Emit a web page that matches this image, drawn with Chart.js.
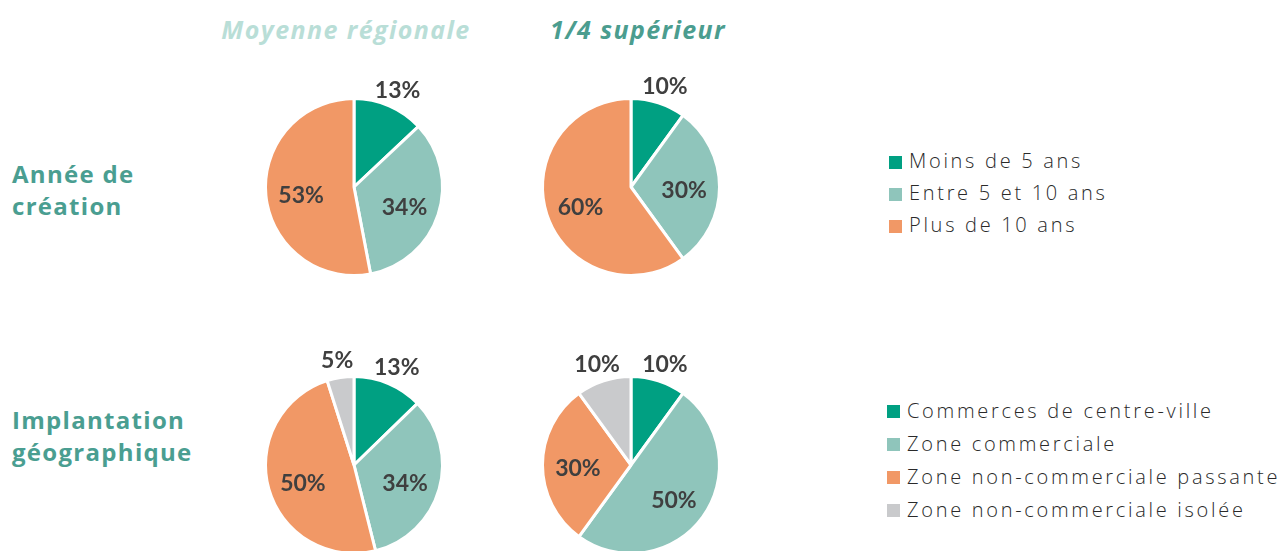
<!DOCTYPE html>
<html lang="fr">
<head>
<meta charset="utf-8">
<script src="https://cdn.jsdelivr.net/npm/chart.js@4/dist/chart.umd.min.js"></script>
<style>
    html, body { margin: 0; padding: 0; background: #fff; width: 1286px; height: 551px; overflow: hidden; }
    body { position: relative; font-family: "Open Sans", sans-serif; }
    .pie { position: absolute; width: 260px; height: 260px; }
    .head { position: absolute; top: 12px; width: 340px; margin-left: -170px; text-align: center;
            font: italic 700 25px "Open Sans", sans-serif; letter-spacing: 1.4px; }
    .row { position: absolute; left: 12px; font: 700 24px "Open Sans", sans-serif; line-height: 32px; color: #4a9e91; letter-spacing: 1.3px; }
    .legend { position: absolute; font: 300 20px "Open Sans", sans-serif; color: #2a2a2a; letter-spacing: 2.7px; }
    .legend div { position: relative; padding-left: 20px; white-space: nowrap; }
    .legend span { position: absolute; left: 0; width: 13px; height: 13px; }
</style>
</head>
<body>
<div class="head" style="left:346px; color:#b9ded7;">Moyenne régionale</div>
<div class="head" style="left:638px; color:#4b9d8f;">1/4 supérieur</div>

<div class="row" style="top:158px;">Année de<br>création</div>
<div class="row" style="top:404px;">Implantation<br>géographique</div>

<canvas id="pieCreationRegional" class="pie" style="left:224px; top:57px;"></canvas>
<canvas id="pieCreationTop" class="pie" style="left:501px; top:57px;"></canvas>
<canvas id="pieLocationRegional" class="pie" style="left:224px; top:335px;"></canvas>
<canvas id="pieLocationTop" class="pie" style="left:501px; top:335px;"></canvas>

<div id="legendCreation" class="legend" style="left:889px; top:145px; line-height:32px;"></div>
<div id="legendLocation" class="legend" style="left:887px; top:394px; line-height:33px;"></div>

<script>
// --- DATA ---
const creationLabels = ['Moins de 5 ans', 'Entre 5 et 10 ans', 'Plus de 10 ans'];
const creationRegional = [13, 34, 53];
const creationTop = [10, 30, 60];

const locationLabels = ['Commerces de centre-ville', 'Zone commerciale', 'Zone non-commerciale passante', 'Zone non-commerciale isolée'];
const locationRegional = [13, 34, 50, 5];
const locationTop = [10, 50, 30, 10];

const creationColors = ['#00a082', '#8fc5bb', '#f19866'];
const locationColors = ['#00a082', '#8fc5bb', '#f19866', '#c9cacc'];

// --- Percent labels: inside for big slices, above the pie for small ones ---
const sliceLabels = {
    id: 'sliceLabels',
    afterDatasetsDraw(chart) {
        const ctx = chart.ctx;
        const values = chart.data.datasets[0].data;
        ctx.save();
        ctx.font = 'bold 23px Lato, sans-serif';
        ctx.fillStyle = '#3f3f3f';
        ctx.textAlign = 'center';
        ctx.textBaseline = 'middle';
        chart.getDatasetMeta(0).data.forEach((arc, i) => {
            const p = arc.getProps(['x', 'y', 'startAngle', 'endAngle', 'outerRadius'], true);
            const mid = (p.startAngle + p.endAngle) / 2;
            const r = values[i] < 15 ? p.outerRadius * 1.24 : p.outerRadius * 0.6;
            ctx.fillText(values[i] + '%', p.x + Math.cos(mid) * r, p.y + Math.sin(mid) * r + 4);
        });
        ctx.restore();
    }
};

function makePie(id, labels, values, colors) {
    new Chart(document.getElementById(id), {
        type: 'pie',
        data: {
            labels: labels,
            datasets: [{
                data: values,
                backgroundColor: colors,
                borderColor: '#ffffff',
                borderWidth: 3
            }]
        },
        options: {
            responsive: false,
            animation: false,
            events: [],
            layout: { padding: 40 },
            plugins: {
                legend: { display: false },
                tooltip: { enabled: false }
            }
        },
        plugins: [sliceLabels]
    });
}

makePie('pieCreationRegional', creationLabels, creationRegional, creationColors);
makePie('pieCreationTop', creationLabels, creationTop, creationColors);
makePie('pieLocationRegional', locationLabels, locationRegional, locationColors);
makePie('pieLocationTop', locationLabels, locationTop, locationColors);

// --- HTML legends ---
function fillLegend(id, labels, colors) {
    const box = document.getElementById(id);
    labels.forEach((label, i) => {
        const row = document.createElement('div');
        const sw = document.createElement('span');
        sw.style.background = colors[i];
        sw.style.top = '11px';
        row.appendChild(sw);
        row.appendChild(document.createTextNode(label));
        box.appendChild(row);
    });
}
fillLegend('legendCreation', creationLabels, creationColors);
fillLegend('legendLocation', locationLabels, locationColors);
</script>
</body>
</html>
